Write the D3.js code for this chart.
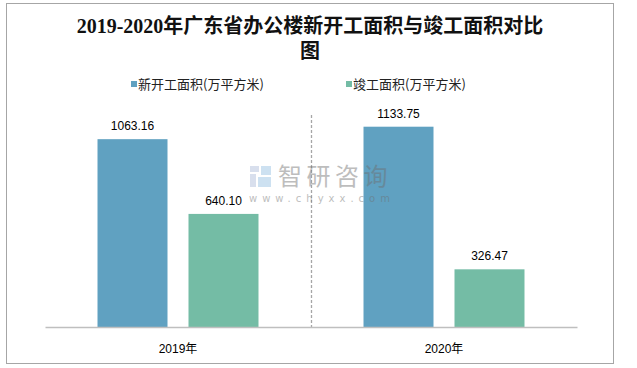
<!DOCTYPE html>
<html><head><meta charset="utf-8">
<script src="https://cdn.jsdelivr.net/npm/d3@7/dist/d3.min.js"></script>
<style>body{margin:0;background:#fff}</style>
</head><body>
<svg id="c" width="637" height="368"></svg>
<script>
const categories = ["2019年", "2020年"];
const seriesNames = ["新开工面积(万平方米)", "竣工面积(万平方米)"];
const newStart = [1063.16, 1133.75];
const completed = [640.10, 326.47];
const valueLabels = [["1063.16", "1133.75"], ["640.10", "326.47"]];
const titleLines = ["2019-2020年广东省办公楼新开工面积与竣工面积对比", "图"];
const colors = ["#60a1c1", "#74bca5"];

const svg = d3.select("#c");
const seriesValues = [newStart, completed];

// border
svg.append("rect").attr("x", 6.5).attr("y", 3.5).attr("width", 607).attr("height", 360)
  .attr("fill", "none").attr("stroke", "#a6a6a6").attr("stroke-width", 1);

// title
const title = svg.append("text").attr("text-anchor", "middle")
  .attr("font-family", "'Liberation Serif','Noto Sans CJK SC',serif")
  .attr("font-weight", "bold").attr("font-size", 20).attr("fill", "#111");
titleLines.forEach((t, i) => title.append("tspan").attr("x", 310).attr("y", 33 + i * 25).text(t));

// scales
const x0 = d3.scaleBand().domain(categories).range([45, 577]).paddingInner(0).paddingOuter(0);
const x1 = d3.scaleBand().domain(seriesNames).range([0, x0.bandwidth()]).paddingInner(21 / 91).paddingOuter(0.577);
const y = d3.scaleLinear().domain([0, 1200]).range([327, 115]);

// separator
svg.append("line").attr("x1", 311.5).attr("x2", 311.5).attr("y1", y(1200)).attr("y2", y(0))
  .attr("stroke", "#a6a6a6").attr("stroke-width", 1.3).attr("stroke-dasharray", "3,2");

// bars
const groups = svg.selectAll("g.cat").data(categories).join("g").attr("class", "cat")
  .attr("transform", d => `translate(${x0(d)},0)`);
seriesNames.forEach((s, si) => {
  groups.append("rect")
    .attr("x", x1(s)).attr("width", x1.bandwidth())
    .attr("y", (d, ci) => y(seriesValues[si][ci]))
    .attr("height", (d, ci) => y(0) - y(seriesValues[si][ci]))
    .attr("fill", colors[si]);
  groups.append("text")
    .attr("x", x1(s) + x1.bandwidth() / 2)
    .attr("y", (d, ci) => y(seriesValues[si][ci]) - 9)
    .attr("text-anchor", "middle").attr("font-family", "'Liberation Sans',Arial,sans-serif")
    .attr("font-size", 12).attr("fill", "#000")
    .text((d, ci) => valueLabels[si][ci]);
});

// axis
const xAxis = d3.axisBottom(x0).tickSize(0).tickPadding(17);
const ax = svg.append("g").attr("transform", `translate(0,${y(0)})`).call(xAxis);
ax.select(".domain").attr("stroke", "#bfbfbf").attr("stroke-width", 1.3);
ax.selectAll("text").attr("font-family", "'Liberation Sans','Noto Sans CJK SC',sans-serif")
  .attr("font-size", 12).attr("fill", "#000");

// legend
const legendX = [131, 346];
seriesNames.forEach((s, i) => {
  svg.append("rect").attr("x", legendX[i]).attr("y", 81).attr("width", 6).attr("height", 6).attr("fill", colors[i]);
  svg.append("text").attr("x", legendX[i] + 7).attr("y", 89)
    .attr("font-family", "'Noto Sans CJK SC',sans-serif").attr("font-size", 13).attr("fill", "#222").text(s);
});

// watermark (on top, translucent)
const wm = svg.append("g").attr("opacity", 0.45);
wm.append("rect").attr("x", 250).attr("y", 166).attr("width", 9).attr("height", 6).attr("fill", "#a9b9d8");
wm.append("rect").attr("x", 250).attr("y", 174).attr("width", 6).attr("height", 13).attr("fill", "#a9b9d8");
wm.append("rect").attr("x", 261).attr("y", 166).attr("width", 10).attr("height", 9).attr("fill", "#92bde2");
wm.append("rect").attr("x", 258).attr("y", 177).attr("width", 13).attr("height", 10).attr("fill", "#92bde2");
wm.append("text").attr("x", 278).attr("y", 185).attr("font-family", "'Noto Sans CJK SC',sans-serif")
  .attr("font-size", 24).attr("letter-spacing", 4.5).attr("fill", "#6e6e6e").text("智研咨询");
wm.append("text").attr("x", 249).attr("y", 202).attr("font-family", "'DejaVu Sans',sans-serif")
  .attr("font-size", 10).attr("letter-spacing", 5).attr("fill", "#6e6e6e").text("www.chyxx.com");
</script>
</body></html>
